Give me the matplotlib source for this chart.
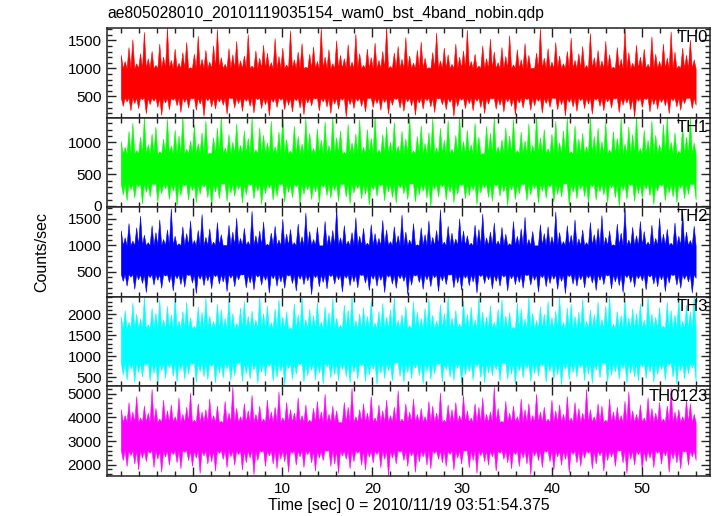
import numpy as np
import matplotlib
matplotlib.use("Agg")
import matplotlib.pyplot as plt
from matplotlib.ticker import MultipleLocator

plt.rcParams['font.family'] = ['Liberation Sans', 'DejaVu Sans']

title = "ae805028010_20101119035154_wam0_bst_4band_nobin.qdp"
xlabel = "Time [sec] 0 = 2010/11/19 03:51:54.375"
ylabel = "Counts/sec"
t_start, t_stop = -8.0, 56.0

bands = ["TH0", "TH1", "TH2", "TH3", "TH0123"]
colors = ["#ff0000", "#00ff00", "#0000ff", "#00ffff", "#ff00ff"]

# peaks / troughs (counts/sec)
TH0_hi = [1240, 1130, 1380, 1520, 1090, 1270, 1650, 1180, 1310, 1060, 1440, 1210, 1730, 1150, 1350,
          1100, 1290, 1470, 1020, 1260, 1580, 1170, 1330, 1120, 1410, 1700, 1200, 1080, 1360, 1250,
          1490, 1140, 1230, 1610, 1050, 1320, 1190, 1420, 1280, 1110, 1540, 1220, 1370, 1070, 1680,
          1160, 1300, 1450, 1030, 1260, 1390, 1130, 1720, 1210, 1340, 1090, 1500, 1240, 1180, 1430,
          1120, 1620, 1270, 1060, 1350, 1200, 1460, 1150, 1310, 1740, 1040, 1280, 1400, 1170, 1560,
          1230, 1100, 1330, 1480, 1190, 1020, 1290, 1640, 1140, 1370, 1250, 1080, 1440, 1210, 1320,
          1690, 1130, 1260, 1050, 1410, 1180, 1530, 1300, 1110, 1380, 1220, 1590, 1070, 1340, 1160,
          1450, 1240, 1010, 1280, 1710, 1190, 1360, 1120, 1470, 1230, 1090, 1310, 1550, 1150, 1270,
          1400, 1060, 1630, 1200, 1330, 1140, 1490, 1250, 1030, 1380, 1170, 1720, 1290, 1100, 1420,
          1210, 1350, 1080, 1570, 1260, 1130, 1440, 1190, 1660, 1300, 1050, 1370, 1240, 1510, 1160]
TH0_lo = [330, 410, 250, 380, 290, 450, 200, 360, 420, 310, 170, 390, 270, 440, 340,
          220, 400, 300, 460, 260, 370, 150, 430, 320, 280, 410, 350, 190, 470, 300,
          380, 240, 420, 330, 210, 450, 290, 360, 160, 400, 310, 440, 270, 350, 230,
          430, 300, 180, 390, 340, 460, 250, 410, 320, 200, 370, 280, 440, 140, 360,
          290, 420, 330, 230, 470, 310, 380, 260, 400, 190, 350, 450, 300, 240, 410,
          340, 170, 390, 280, 430, 320, 220, 460, 360, 270, 400, 150, 330, 440, 290,
          380, 250, 420, 310, 200, 370, 460, 280, 350, 230, 410, 330, 180, 390, 300,
          450, 260, 340, 420, 210, 380, 310, 470, 270, 360, 160, 400, 320, 240, 430,
          290, 370, 190, 440, 330, 250, 410, 300, 460, 220, 350, 390, 270, 140, 420,
          310, 450, 230, 360, 280, 400, 340, 200, 430, 320, 260, 380, 470, 290, 350]

TH1_hi = [1020, 930, 1180, 1310, 880, 1090, 1400, 970, 1140, 1250, 860, 1060, 1370, 950, 1200,
          1110, 1420, 900, 1030, 1280, 990, 1160, 1350, 840, 1080, 1230, 1410, 920, 1130, 1010,
          1300, 960, 1190, 1070, 1390, 890, 1240, 1120, 1000, 1340, 940, 1170, 1420, 1050, 870,
          1260, 1100, 980, 1380, 1150, 910, 1220, 1040, 1330, 960, 1410, 1080, 1190, 850, 1290,
          1000, 1140, 1360, 930, 1210, 1070, 1420, 890, 1130, 1250, 1010, 1320, 950, 1180, 1060,
          1400, 870, 1100, 1270, 990, 1160, 1380, 920, 1230, 1040, 1350, 900, 1120, 1420, 1020,
          1200, 970, 1310, 1090, 830, 1260, 1150, 1400, 940, 1050, 1240, 1110, 1370, 880, 1170,
          1030, 1300, 960, 1420, 1080, 1210, 910, 1140, 1340, 1000, 1190, 1390, 860, 1270, 1060,
          1150, 940, 1410, 1100, 1230, 1020, 1320, 890, 1180, 1070, 1380, 980, 1250, 1130, 1420,
          910, 1200, 1040, 1350, 1120, 970, 1290, 1410, 1010, 1160, 870, 1260, 1090, 1400, 1000]
TH1_lo = [180, 90, 260, 130, 310, 40, 220, 150, 340, 70, 200, 280, 110, 240, 20,
          170, 320, 100, 250, 60, 190, 300, 140, 0, 230, 120, 350, 80, 210, 160,
          270, 50, 180, 330, 120, 240, 30, 200, 290, 100, 160, 340, 70, 220, 140,
          310, 10, 190, 260, 110, 230, 60, 300, 170, 130, 250, 80, 340, 150, 40,
          210, 280, 120, 190, 20, 260, 160, 320, 90, 230, 140, 50, 290, 200, 110,
          350, 70, 180, 240, 130, -10, 270, 150, 310, 100, 220, 60, 190, 330, 120,
          170, 250, 30, 210, 290, 140, 80, 320, 160, 230, 10, 260, 110, 200, 340,
          90, 180, 280, 50, 240, 130, 300, 70, 190, 150, 350, 20, 220, 120, 270,
          160, 40, 310, 100, 230, 180, 60, 290, 140, 0, 250, 110, 330, 80, 200,
          130, 270, 170, 30, 240, 320, 90, 210, 150, 60, 280, 120, 190, 340, 100]

TH2_hi = [1280, 1150, 1420, 1090, 1340, 1560, 1200, 1060, 1380, 1250, 1490, 1120, 1300, 1700, 1180,
          1040, 1360, 1230, 1470, 1100, 1290, 1590, 1160, 1320, 1070, 1440, 1210, 1010, 1390, 1260,
          1520, 1140, 1330, 1080, 1650, 1190, 1280, 1450, 1030, 1240, 1370, 1110, 1500, 1220, 1310,
          1060, 1410, 1170, 1620, 1270, 1120, 1350, 1000, 1460, 1200, 1290, 1720, 1150, 1380, 1090,
          1250, 1530, 1180, 1330, 1050, 1400, 1230, 1140, 1480, 1300, 1080, 1360, 1190, 1580, 1260,
          1110, 1420, 1020, 1340, 1210, 1470, 1160, 1290, 1680, 1070, 1370, 1240, 1130, 1510, 1280,
          1190, 1050, 1390, 1310, 1600, 1150, 1260, 1430, 1090, 1350, 1220, 1040, 1460, 1180, 1320,
          1540, 1120, 1270, 1000, 1400, 1230, 1360, 1170, 1640, 1250, 1080, 1380, 1200, 1490, 1130,
          1300, 1060, 1440, 1210, 1330, 1570, 1160, 1280, 1020, 1410, 1240, 1710, 1110, 1350, 1190,
          1460, 1270, 1070, 1390, 1140, 1520, 1220, 1310, 1050, 1430, 1180, 1630, 1260, 1100, 1370]
TH2_lo = [330, 240, 410, 180, 360, 290, 120, 400, 260, 350, 200, 430, 310, 150, 380,
          270, 220, 440, 300, 100, 370, 250, 340, 190, 420, 280, 320, 140, 390, 230,
          360, 450, 210, 300, 170, 410, 260, 350, 110, 380, 240, 320, 200, 430, 290,
          150, 370, 270, 340, 80, 400, 230, 310, 190, 420, 280, 360, 130, 390, 250,
          320, 210, 440, 300, 160, 370, 240, 350, 120, 410, 280, 200, 380, 330, 90,
          260, 430, 310, 180, 360, 230, 400, 140, 340, 270, 450, 210, 300, 170, 390,
          250, 320, 110, 420, 290, 360, 190, 330, 240, 410, 150, 380, 270, 310, 200,
          440, 260, 350, 130, 400, 230, 290, 370, 180, 330, 100, 420, 280, 240, 360,
          210, 390, 300, 160, 350, 270, 430, 190, 320, 250, 120, 400, 310, 220, 380,
          340, 170, 410, 280, 230, 360, 140, 300, 440, 260, 200, 370, 320, 110, 390]

TH3_hi = [1950, 2100, 1820, 2280, 2010, 1900, 2420, 1760, 2150, 2040, 2350, 1880, 2200, 1990, 2450,
          1850, 2080, 2300, 1930, 1720, 2180, 2060, 2400, 1970, 1840, 2250, 2120, 1910, 2380, 2030,
          1790, 2160, 2320, 1960, 2090, 1870, 2440, 2020, 2210, 1810, 2140, 2360, 1940, 2070, 1680,
          2260, 2000, 2410, 1890, 2130, 1980, 2290, 1830, 2190, 2050, 2390, 1920, 1750, 2230, 2110,
          2440, 1860, 2020, 2170, 1960, 2340, 1800, 2080, 2270, 1940, 2120, 2420, 1870, 2000, 2200,
          1740, 2310, 2060, 1910, 2150, 2380, 1990, 1850, 2240, 2030, 2450, 1920, 2100, 1780, 2330,
          2010, 2180, 1880, 2400, 2070, 1950, 2220, 1820, 2130, 2360, 1970, 2050, 1700, 2280, 2140,
          1900, 2430, 2040, 1860, 2190, 2010, 2320, 1930, 2090, 2420, 1810, 2160, 2250, 1960, 2060,
          2370, 1840, 2110, 2000, 2300, 1890, 2210, 2440, 1770, 2080, 1980, 2350, 1920, 2140, 2030,
          2260, 1870, 2410, 2020, 1940, 2170, 1730, 2290, 2100, 1990, 2390, 1850, 2230, 2070, 2450]
TH3_lo = [560, 440, 700, 380, 620, 510, 790, 420, 600, 350, 660, 480, 740, 530, 400,
          680, 460, 580, 820, 390, 640, 520, 450, 760, 370, 610, 490, 710, 430, 550,
          840, 410, 590, 470, 680, 360, 630, 540, 770, 420, 500, 650, 330, 720, 460,
          580, 800, 400, 540, 670, 440, 610, 350, 750, 490, 570, 430, 690, 520, 380,
          630, 460, 780, 410, 560, 700, 340, 600, 480, 660, 420, 850, 530, 390, 620,
          470, 730, 550, 360, 640, 450, 590, 810, 400, 680, 510, 430, 720, 370, 570,
          650, 440, 760, 500, 380, 610, 540, 690, 420, 830, 460, 580, 350, 660, 490,
          710, 410, 600, 530, 770, 390, 640, 470, 560, 330, 700, 450, 620, 510, 740,
          430, 580, 360, 680, 490, 820, 400, 550, 640, 460, 710, 370, 600, 520, 420,
          750, 480, 630, 390, 570, 690, 440, 800, 510, 350, 660, 470, 590, 730, 410]

TH0123_hi = [4350, 4100, 4650, 4250, 4900, 4000, 4500, 4200, 5200, 4400, 3950, 4750, 4300, 4550, 4050,
             4850, 4150, 4450, 5050, 3900, 4600, 4250, 4350, 4800, 4100, 4500, 3850, 4700, 4200, 5300,
             4400, 4050, 4600, 4300, 4950, 4150, 4500, 3950, 4750, 4250, 4450, 5100, 4000, 4650, 4350,
             4200, 4850, 4100, 4550, 3900, 4400, 4700, 4250, 5000, 4150, 4500, 4300, 3800, 4650, 4450,
             5250, 4050, 4350, 4600, 4200, 4900, 4000, 4550, 4300, 4750, 4100, 4450, 5150, 3950, 4600,
             4250, 4800, 4150, 4400, 4050, 4700, 4500, 4200, 5050, 3900, 4550, 4350, 4650, 4100, 4950,
             4300, 4000, 4600, 4450, 4850, 4150, 4250, 5300, 4400, 3850, 4700, 4200, 4500, 4050, 4800,
             4350, 4600, 4100, 5000, 4250, 4450, 3950, 4750, 4300, 4550, 4150, 4900, 4000, 4650, 4400,
             4200, 5200, 4350, 4050, 4600, 4500, 3900, 4800, 4250, 4450, 4100, 4700, 5100, 4300, 4150,
             4550, 4000, 4850, 4400, 4200, 4650, 3950, 4500, 5250, 4250, 4350, 4050, 4750, 4600, 4150]
TH0123_lo = [2200, 1950, 2400, 2050, 1800, 2300, 2150, 2500, 1900, 2250, 1700, 2350, 2000, 2450, 2100,
             1850, 2550, 2200, 1950, 2300, 1650, 2400, 2050, 2150, 1750, 2500, 2250, 1900, 2350, 2000,
             2450, 1800, 2100, 2300, 1600, 2200, 2550, 1950, 2400, 2050, 1850, 2250, 2150, 1700, 2500,
             2000, 2350, 1900, 2450, 2100, 1750, 2300, 2200, 2600, 1950, 2050, 1650, 2400, 2250, 1850,
             2150, 2500, 2000, 1800, 2350, 2100, 2450, 1900, 2250, 1550, 2300, 2050, 2550, 2200, 1950,
             2400, 1700, 2150, 2350, 2000, 1850, 2500, 2250, 2100, 1950, 2450, 1800, 2300, 2050, 2600,
             1900, 2200, 1650, 2400, 2150, 2000, 2350, 1750, 2500, 2250, 2100, 1850, 2450, 1950, 2300,
             2050, 1600, 2400, 2200, 1900, 2550, 2150, 1800, 2350, 2000, 2250, 1700, 2450, 2100, 1950,
             2300, 2500, 1850, 2050, 2400, 1750, 2200, 2350, 1950, 2600, 2100, 1650, 2250, 2000, 2450,
             1800, 2150, 2300, 1900, 2500, 2050, 2400, 1700, 2250, 2100, 1850, 2550, 2000, 2350, 2200]

# fully saturated centre of each band (spikes grow out of it)
core_lo = [480, 360, 460, 860, 2620]
core_hi = [1000, 820, 1000, 1650, 3800]

his = [TH0_hi, TH1_hi, TH2_hi, TH3_hi, TH0123_hi]
los = [TH0_lo, TH1_lo, TH2_lo, TH3_lo, TH0123_lo]

ylims = [(120, 1720), (-20, 1390), (30, 1720), (280, 2415), (1525, 5310)]
ymajor = [500, 500, 500, 500, 1000]
yminor = [100, 100, 100, 100, 200]

W, H = 717, 516
fig = plt.figure(figsize=(W / 100, H / 100), dpi=100)
left, right = 107 / W, 710 / W
top_px, bot_px = 28, 476
ph = (bot_px - top_px) / 5

axes = []
for i in range(5):
    y0 = 1 - (top_px + (i + 1) * ph) / H
    ax = fig.add_axes([left, y0, right - left, ph / H])
    axes.append(ax)
    hi = np.array(his[i], float)
    lo = np.array(los[i], float)
    n = len(hi)
    t = np.linspace(t_start, t_stop, 2 * n)
    upper = np.empty(2 * n)
    lower = np.empty(2 * n)
    upper[0::2] = hi
    upper[1::2] = core_hi[i]
    lower[0::2] = core_lo[i]
    lower[1::2] = lo
    ax.fill_between(t, lower, upper, color=colors[i], lw=0.4,
                    edgecolor=colors[i], zorder=1)
    ax.set_xlim(-9.54, 57.6)
    ax.set_ylim(*ylims[i])
    ax.xaxis.set_major_locator(MultipleLocator(10))
    ax.xaxis.set_minor_locator(MultipleLocator(2))
    ax.yaxis.set_major_locator(MultipleLocator(ymajor[i]))
    ax.yaxis.set_minor_locator(MultipleLocator(yminor[i]))
    ax.tick_params(which='both', direction='in', top=True, right=True,
                   width=1, color='#222222', labelsize=11, pad=4)
    ax.tick_params(which='major', length=6.5)
    ax.tick_params(which='minor', length=3.3)
    for s in ax.spines.values():
        s.set_linewidth(1.1)
        s.set_color('#222222')
    if i < 4:
        ax.tick_params(labelbottom=False)
    ax.text(0.997, 0.975, bands[i], transform=ax.transAxes, ha='right',
            va='top', fontsize=12, zorder=5)

axes[-1].set_xlabel(xlabel, fontsize=11.5, labelpad=2)
fig.text(42 / W, 1 - 252 / H, ylabel, rotation=90, ha='center',
         va='center', fontsize=11.5)
fig.text(left, 1 - 13 / H, title, ha='left', va='center', fontsize=11.3)

fig.savefig("out.png", dpi=100)
